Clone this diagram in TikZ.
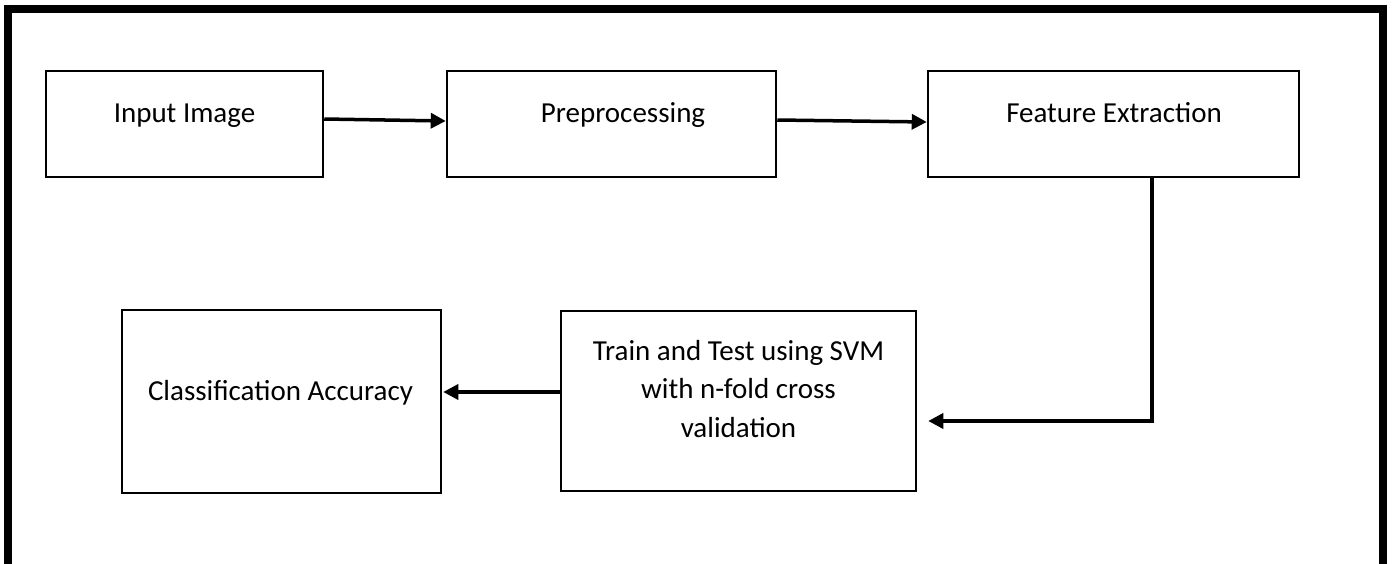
\documentclass[tikz,border=0pt]{standalone}
\usepackage{fontspec}
\setmainfont{Carlito}
\usetikzlibrary{arrows.meta}
\begin{document}
\begin{tikzpicture}[x=1pt,y=-1pt,
  box/.style={draw=black, line width=2.5pt, inner sep=0pt},
  lbl/.style={font=\fontsize{29}{38.5}\selectfont, anchor=base, align=center, inner sep=0pt},
  arr/.style={line width=3.5pt, line join=miter, -{Triangle[length=15pt,width=15pt]}},
  frame/.style={line width=8pt, line join=miter}]
\useasboundingbox (0,0) rectangle (1393,563);
\fill[white] (0,0) rectangle (1393,563);
\draw[frame] (8,575) -- (8,9) -- (1383,9) -- (1383,575);
% boxes
\node[box, minimum width=277pt, minimum height=106pt] (inp) at (184.5,124) {};
\node[box, minimum width=329pt, minimum height=106pt] (pre) at (611.5,124) {};
\node[box, minimum width=371pt, minimum height=106pt] (feat) at (1113.5,124) {};
\node[box, minimum width=319pt, minimum height=183pt] (cls) at (281.5,401.5) {};
\node[box, minimum width=355pt, minimum height=180pt] (trn) at (738.5,401) {};
% texts
\node[lbl] (t1) at (184.5,122) {Input Image};
\node[lbl] (t2) at (623,122) {Preprocessing};
\node[lbl] (t3) at (1114,122) {Feature Extraction};
\node[lbl] (t4) at (280.5,400) {Classification Accuracy};
\node[lbl] (t5) at (738.5,437) {Train and Test using SVM\\with n-fold cross\\validation};
% connectors
\draw[arr] ([yshift=5pt]inp.east) -- ([yshift=3pt]pre.west);
\draw[arr] ([yshift=4pt]pre.east) -- ([yshift=2pt]feat.west);
\coordinate (tip) at ([xshift=11pt,yshift=-20pt]trn.east);
\coordinate (bend) at (1152,421);
\draw[arr] (feat.south -| bend) -- (bend) -- (tip);
\draw[arr] ([yshift=9pt]trn.west) -- ([xshift=1pt,yshift=9.5pt]cls.east);
\end{tikzpicture}
\end{document}
